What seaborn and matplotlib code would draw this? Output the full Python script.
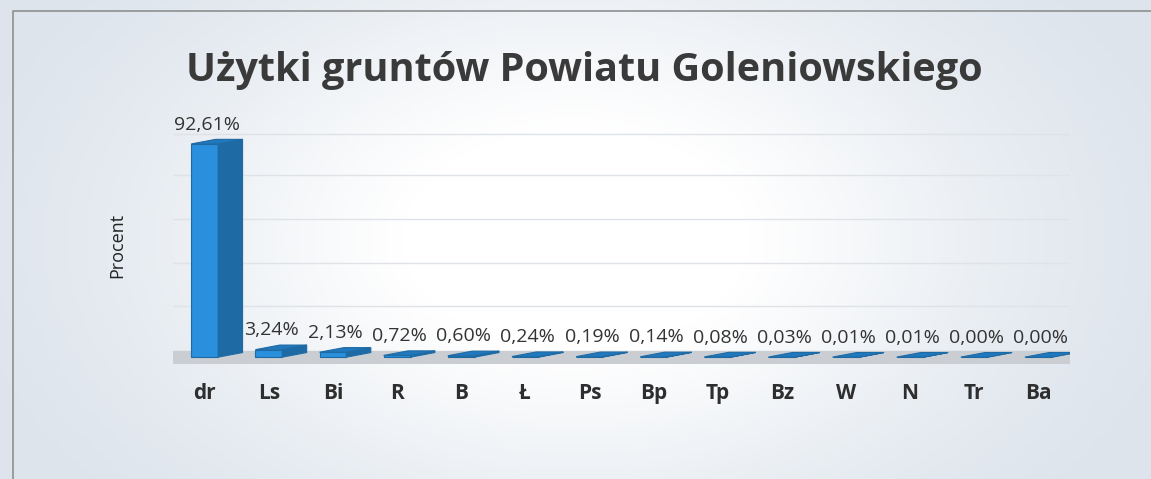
import numpy as np
import pandas as pd
import seaborn as sns
import matplotlib.pyplot as plt
from matplotlib.colors import LinearSegmentedColormap
from matplotlib.patches import Polygon

# land use shares, Goleniow county
categories = ['dr', 'Ls', 'Bi', 'R', 'B', 'Ł', 'Ps', 'Bp', 'Tp', 'Bz', 'W', 'N', 'Tr', 'Ba']
percent = [92.61, 3.24, 2.13, 0.72, 0.60, 0.24, 0.19, 0.14, 0.08, 0.03, 0.01, 0.01, 0.00, 0.00]
value_labels = ['92,61%', '3,24%', '2,13%', '0,72%', '0,60%', '0,24%', '0,19%', '0,14%',
                '0,08%', '0,03%', '0,01%', '0,01%', '0,00%', '0,00%']

df = pd.DataFrame({'kategoria': categories, 'procent': percent})

sns.set_theme(style='white')
plt.rcParams['font.family'] = ['Open Sans', 'DejaVu Sans']

fig = plt.figure(figsize=(11.51, 4.79), dpi=100)
fig.patch.set_facecolor('#e4e9ef')

# soft white centre like the scanned chart background
bg = fig.add_axes([0, 0, 1, 1], zorder=-10)
gx, gy = np.meshgrid(np.linspace(-1, 1, 300), np.linspace(-1, 1, 150))
glow = np.exp(-(gx ** 2 / 0.55 + gy ** 2 / 1.3))
cmap = LinearSegmentedColormap.from_list('bg', ['#dde4ec', '#ffffff'])
bg.imshow(glow, cmap=cmap, vmin=0.1, vmax=0.85, aspect='auto', extent=[0, 1, 0, 1])
bg.set_axis_off()
bg.plot([0.011, 0.011, 1], [0, 0.978, 0.978], color='#8f8f8f', lw=1.2, transform=bg.transAxes)
bg.set_xlim(0, 1)
bg.set_ylim(0, 1)

ax = fig.add_axes([0.15, 0.24, 0.78, 0.495])
ax.set_facecolor('none')
sns.barplot(data=df, x='kategoria', y='procent', color='#2a8fdc', saturation=1, width=0.42,
            edgecolor='#1d6aa5', linewidth=0.8, ax=ax)

# fake 3d: side and top faces built from the bar patches
depth, rise = 0.38, 2.0
for p in ax.patches:
    x0, w, h = p.get_x(), p.get_width(), p.get_height()
    x1 = x0 + w
    side = Polygon([(x1, 0), (x1 + depth, rise), (x1 + depth, h + rise), (x1, h)],
                   closed=True, facecolor='#1d6aa5', edgecolor='#1d6aa5', lw=0.8, zorder=3)
    top = Polygon([(x0, h), (x0 + depth, h + rise), (x1 + depth, h + rise), (x1, h)],
                  closed=True, facecolor='#2178bd', edgecolor='#1d6aa5', lw=0.8, zorder=3)
    ax.add_patch(side)
    ax.add_patch(top)

ax.axhspan(-2.5, 2.5, color='#cacdd1', zorder=0)
ax.set_xlim(-0.5, len(categories) - 0.5)
ax.set_ylim(-3, 100)
# back-wall gridlines sit a bit above the front scale
ax.set_yticks([22, 41, 60, 79, 97])
ax.yaxis.grid(True, color='#dfe2e6', lw=1)
ax.set_yticklabels([])
ax.tick_params(axis='y', length=0)
ax.tick_params(axis='x', length=0, pad=14)
for lab in ax.get_xticklabels():
    lab.set_fontweight('bold')
    lab.set_fontsize(15)
    lab.set_color('#2e2e2e')

for i, v in enumerate(percent):
    ax.text(i + 0.04, v + 4.5, value_labels[i], ha='center', va='bottom', fontsize=14, color='#333333')

ax.set_xlabel('')
ax.set_ylabel('Procent', fontsize=13, color='#222222', labelpad=30)
sns.despine(ax=ax, left=True, bottom=True)

fig.text(0.508, 0.852, 'Użytki gruntów Powiatu Goleniowskiego', ha='center', va='center',
         fontsize=28.5, fontweight='bold', color='#3a3a3a')

fig.savefig('out.png', dpi=100, facecolor=fig.get_facecolor())
